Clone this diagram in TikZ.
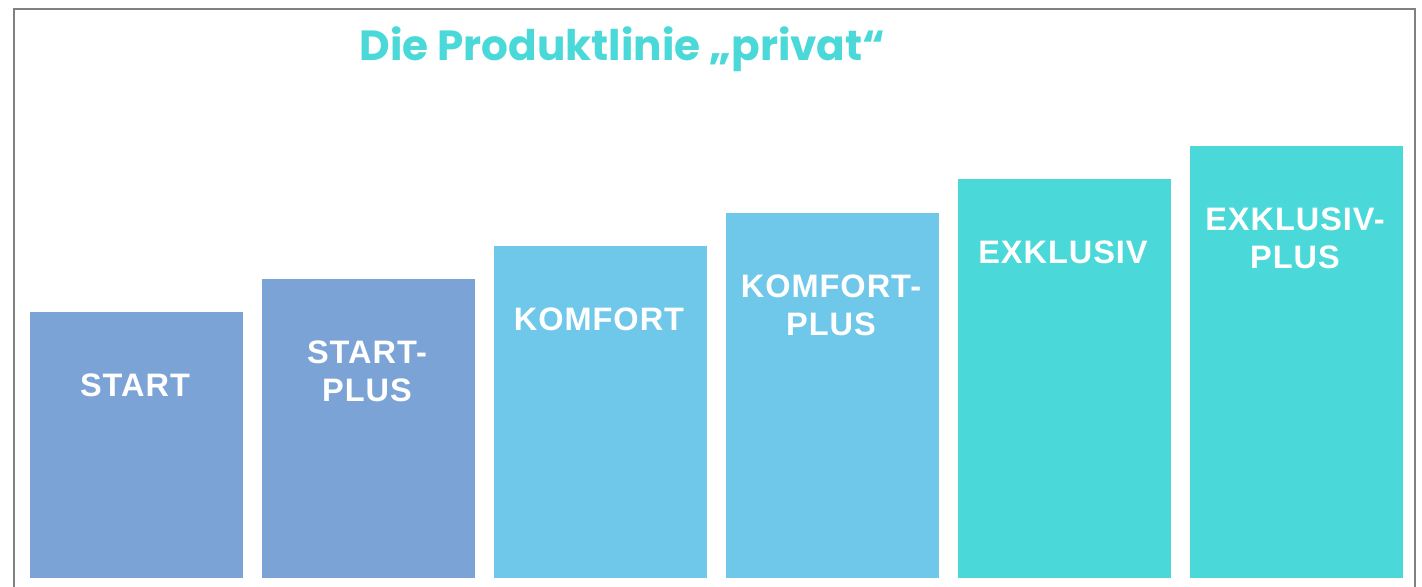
\documentclass[tikz,border=0pt]{standalone}
\usepackage{fontspec}
\newfontfamily\titlefont{Poppins}
\newfontfamily\barfont{Liberation Sans}[LetterSpace=3]
\definecolor{barblue}{RGB}{123,163,214}
\definecolor{barsky}{RGB}{111,200,234}
\definecolor{barteal}{RGB}{74,216,216}
\definecolor{framegray}{RGB}{128,128,128}
\tikzset{
  barlabel/.style={anchor=north, inner sep=0pt, align=center, text=white,
    font=\barfont\bfseries\fontsize{18.5}{22}\selectfont},
}
\begin{document}
\begin{tikzpicture}[x=0.02cm, y=-0.02cm]
    \useasboundingbox (0,0) rectangle (1422,586);
    \draw[framegray, line width=1.6pt] (14,587) -- (14,9) -- (1415,9) -- (1415,587);

    \node[anchor=base west, inner sep=0pt, text=barteal,
          font=\titlefont\bfseries\fontsize{24}{28}\selectfont]
          (title) at (359,60) {Die Produktlinie „privat“};

    % bars: left edge / top / colour / name / label
    \foreach \xl/\yt/\col/\nm/\txt in {
        30/312/barblue/start/START,
        262/279/barblue/startplus/{START-\\PLUS},
        494/246/barsky/komfort/KOMFORT,
        726/213/barsky/komfortplus/{KOMFORT-\\PLUS},
        958/179/barteal/exklusiv/EXKLUSIV,
        1190/146/barteal/exklusivplus/{EXKLUSIV-\\PLUS}} {
        \fill[\col] (\xl,\yt) rectangle ++(213,{578-\yt});
        \node[barlabel] (\nm) at ({\xl+105},{\yt+61}) {\txt};
    }
\end{tikzpicture}
\end{document}
